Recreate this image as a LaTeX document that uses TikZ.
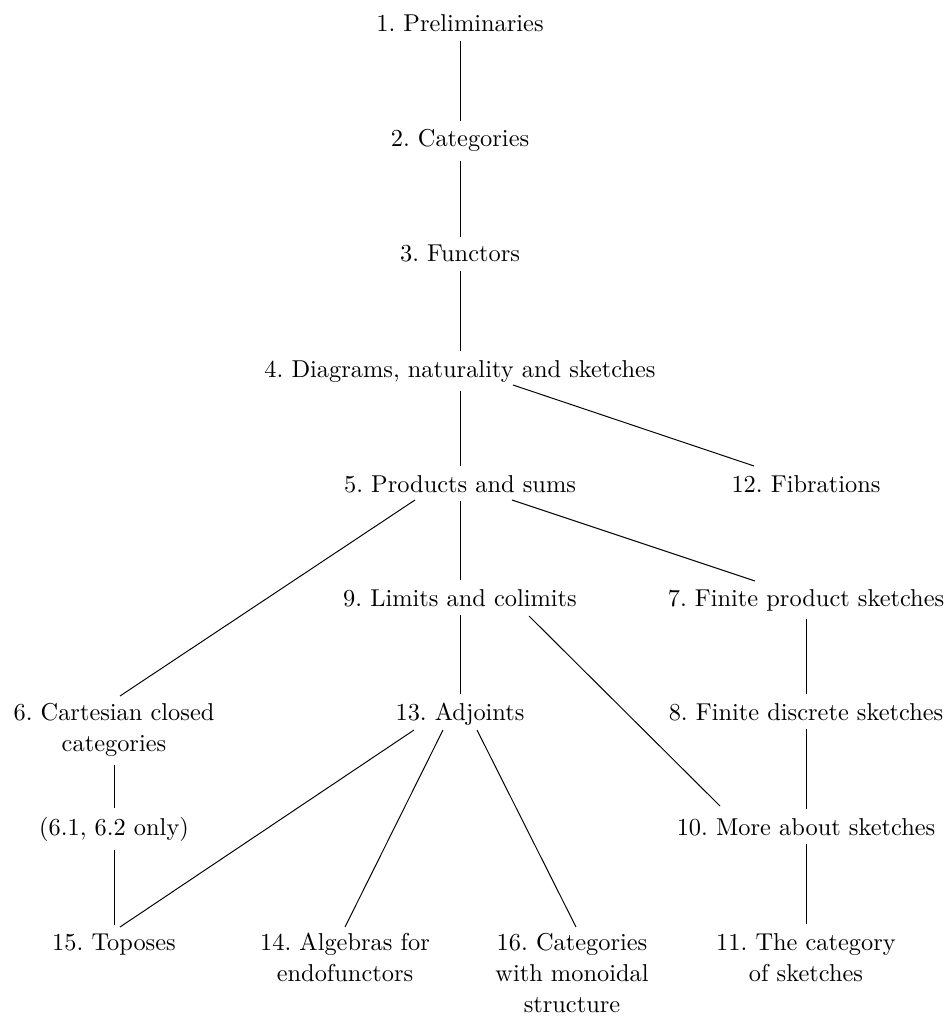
\documentclass[tikz,border=0pt]{standalone}
\usetikzlibrary{calc}

\begin{document}
\frenchspacing
\begin{tikzpicture}[x=0.41pt,y=-0.41pt,
    chap/.style={anchor=base,align=center,font=\fontsize{10}{12.7}\selectfont}]

    \useasboundingbox (0,0) rectangle (947,1019);

    % base of the last line of each node
    \node[chap] (c1) at (460,32) {1. Preliminaries};
    \node[chap] (c2) at (460,147) {2. Categories};
    \node[chap] (c3) at (460,262) {3. Functors};
    \node[chap] (c4) at (460,377) {4. Diagrams, naturality and sketches};
    \node[chap] (c5) at (460,492) {5. Products and sums};
    \node[chap] (c12) at (806,492) {12. Fibrations};
    \node[chap] (c9) at (460,606) {9. Limits and colimits};
    \node[chap] (c7) at (806,606) {7. Finite product sketches};
    \node[chap] (c6) at (114,751) {6. Cartesian closed\\categories};
    \node[chap] (c13) at (460,720) {13. Adjoints};
    \node[chap] (c8) at (806,720) {8. Finite discrete sketches};
    \node[chap] (c6a) at (114,835) {(6.1, 6.2 only)};
    \node[chap] (c10) at (806,835) {10. More about sketches};
    \node[chap] (c15) at (114,950) {15. Toposes};
    \node[chap] (c14) at (345,981) {14. Algebras for\\endofunctors};
    \node[chap] (c16) at (572,1012) {16. Categories\\with monoidal\\structure};
    \node[chap] (c11) at (806,981) {11. The category\\of sketches};

    % main column
    \draw (c1) -- (c2);
    \draw (c2) -- (c3);
    \draw (c3) -- (c4);
    \draw (c4) -- (c5);
    \draw (c5) -- (c9);
    \draw (c9) -- (c13);

    % side columns
    \draw (c6) -- (c6a);
    \draw (c6a) -- (c15);
    \draw (c7) -- (c8);
    \draw (c8) -- (c10);
    \draw (c10) -- (c11);

    % slanted ones
    \draw ($(c4.base)+(53,8)$) -- ($(c12.base)+(-52,-26)$);
    \draw ($(c5.base)+(-45,8)$) -- ($(c6.base)+(6,-55)$);
    \draw ($(c5.base)+(52,8)$) -- ($(c7.base)+(-51,-25)$);
    \draw ($(c9.base)+(69,10)$) -- ($(c10.base)+(-86,-29)$);
    \draw ($(c13.base)+(-46,10)$) -- ($(c15.base)+(6,-23)$);
    \draw ($(c13.base)+(-17,10)$) -- ($(c14.base)+(0,-54)$);
    \draw ($(c13.base)+(17,10)$) -- ($(c16.base)+(4,-85)$);

\end{tikzpicture}
\end{document}
